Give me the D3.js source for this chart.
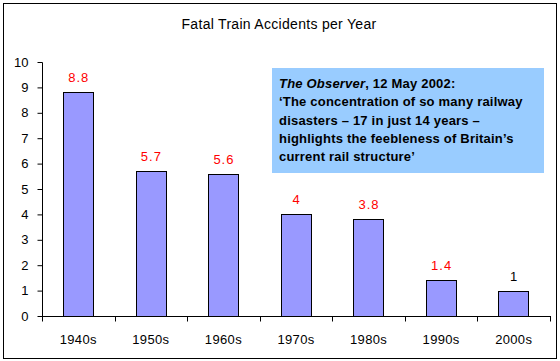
<!DOCTYPE html>
<html><head><meta charset="utf-8">
<script src="https://cdn.jsdelivr.net/npm/d3@7"></script>
<style>body{margin:0;background:#fff}svg{display:block}text{font-family:"Liberation Sans",Arial,sans-serif}</style>
</head><body>
<script>
const categories = ["1940s","1950s","1960s","1970s","1980s","1990s","2000s"];
const values = [8.8,5.7,5.6,4,3.8,1.4,1];
const labelColors = ["red","red","red","red","red","red","black"];
const yTicks = [0,1,2,3,4,5,6,7,8,9,10];
const title = "Fatal Train Accidents per Year";
const quoteLines = [
  [{t:"The Observer", i:true},{t:", 12 May 2002:"}],
  [{t:"\u2018The concentration of so many railway"}],
  [{t:"disasters \u2013 17 in just 14 years \u2013"}],
  [{t:"highlights the feebleness of Britain\u2019s"}],
  [{t:"current rail structure\u2019"}]
];

(function(){
const W=560,H=361;
const svg=d3.select("body").append("svg").attr("width",W).attr("height",H);
svg.append("rect").attr("x",3.5).attr("y",3.5).attr("width",553).attr("height",355)
  .attr("fill","#fff").attr("stroke","#000").attr("stroke-width",1);

const pL=42,pR=550,pT=62,pB=316;
const x=d3.scaleBand().domain(categories).range([pL,pR]).paddingInner(0.58).paddingOuter(0.29);
const xb=d3.scaleBand().domain(categories).range([pL,pR]);
const y=d3.scaleLinear().domain([0,10]).range([pB,pT]);

svg.append("text").attr("x",279).attr("y",29).attr("text-anchor","middle")
  .attr("font-size",14).attr("letter-spacing",0.3).text(title);

svg.selectAll("rect.bar").data(values).join("rect").attr("class","bar")
  .attr("x",(d,i)=>Math.round(x(categories[i]))+0.5).attr("width",Math.round(x.bandwidth()))
  .attr("y",d=>Math.round(y(d))+0.5).attr("height",d=>Math.round(pB-y(d)))
  .attr("fill","#9999FF").attr("stroke","#000").attr("stroke-width",1);

svg.selectAll("text.lab").data(values).join("text").attr("class","lab")
  .attr("x",(d,i)=>x(categories[i])+x.bandwidth()/2+0.5).attr("y",d=>Math.round(y(d))-10)
  .attr("text-anchor","middle").attr("font-size",13).attr("letter-spacing",1)
  .attr("fill",(d,i)=>labelColors[i])
  .text(d=>d);

const ya=svg.append("g").attr("transform",`translate(${pL+0.5},0)`)
  .call(d3.axisLeft(y).tickValues(yTicks).tickSize(5).tickFormat(d3.format("d")));
ya.attr("font-family",null).attr("font-size",null);
ya.select("path.domain").attr("d",`M0,${pB+0.5}V${pT+0.5}`);
ya.selectAll(".tick line").attr("stroke","#000");
ya.selectAll(".tick text").attr("font-size",13).attr("fill","#000").attr("x",-14);

const xa=svg.append("g").attr("transform",`translate(0,${pB+0.5})`);
xa.append("line").attr("x1",pL).attr("x2",pR+1).attr("stroke","#000");
xa.selectAll("line.t").data(categories.concat(["end"])).join("line").attr("class","t")
  .attr("x1",(d,i)=>Math.round(pL+i*xb.step())+0.5).attr("x2",(d,i)=>Math.round(pL+i*xb.step())+0.5)
  .attr("y1",0).attr("y2",5).attr("stroke","#000");
xa.selectAll("text").data(categories).join("text")
  .attr("x",d=>xb(d)+xb.bandwidth()/2).attr("y",27.5).attr("text-anchor","middle")
  .attr("font-size",13).attr("letter-spacing",0.35).text(d=>d);

const bx=272,by=68,bw=272,bh=105;
svg.append("rect").attr("x",bx).attr("y",by).attr("width",bw).attr("height",bh).attr("fill","#99CCFF");
const qt=svg.append("g");
quoteLines.forEach((ln,i)=>{
  const t=qt.append("text").attr("x",bx+7).attr("y",by+20+i*18.3).attr("font-size",13)
    .attr("font-weight","bold").attr("letter-spacing",0.2);
  ln.forEach(s=>t.append("tspan").attr("font-style",s.i?"italic":null).text(s.t));
});
})();
</script>
</body></html>
